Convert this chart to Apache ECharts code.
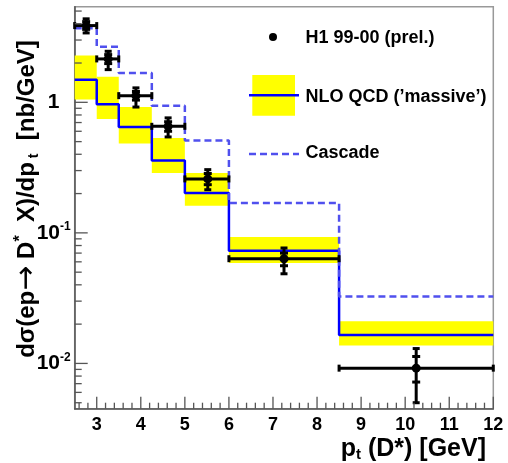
<!DOCTYPE html>
<html>
<head>
<meta charset="utf-8">
<script src="https://cdn.jsdelivr.net/npm/echarts@6/dist/echarts.min.js"></script>
<style>
html,body{margin:0;padding:0;background:#fff;}
#c{width:508px;height:463px;}
</style>
</head>
<body>
<div id="c"></div>
<script>
// ---- data ----
var binEdges = [2.5, 3.0, 3.5, 4.25, 5.0, 6.0, 8.5, 12.0];
var h1X      = [2.76, 3.26, 3.89, 4.62, 5.52, 7.25, 10.25];
var h1Y      = [3.87, 2.15, 1.125, 0.655, 0.259, 0.0634, 0.0092];
var h1TotUp  = [4.36, 2.46, 1.29, 0.76, 0.305, 0.0766, 0.0130];
var h1TotDn  = [3.40, 1.78, 0.92, 0.543, 0.214, 0.0486, 0.0050];
var h1StatUp = [4.15, 2.32, 1.21, 0.71, 0.285, 0.0700, 0.0113];
var h1StatDn = [3.62, 1.98, 1.04, 0.60, 0.234, 0.0560, 0.0072];
var nloY     = [1.49, 0.965, 0.647, 0.359, 0.202, 0.0731, 0.0165];
var nloHi    = [2.28, 1.57, 0.92, 0.533, 0.288, 0.093, 0.021];
var nloLo    = [1.05, 0.746, 0.483, 0.288, 0.161, 0.0588, 0.0137];
var cascadeY = [3.7, 2.66, 1.68, 0.943, 0.511, 0.1695, 0.0326];
var xMajorTicks = [3, 4, 5, 6, 7, 8, 9, 10, 11, 12];
var yMajorTicks = [0.01, 0.1, 1];

var X_MIN = 2.5, X_MAX = 12, Y_MIN = 0.0045, Y_MAX = 5.4;
var FONT = '"Liberation Sans", Arial, Helvetica, sans-serif';

function stepData(vals) {
  var d = [];
  for (var i = 0; i < binEdges.length; i++) {
    d.push([binEdges[i], vals[Math.min(i, vals.length - 1)]]);
  }
  return d;
}

var bandData = [];
var pointData = [];
for (var i = 0; i < nloY.length; i++) {
  bandData.push([binEdges[i], binEdges[i + 1], nloLo[i], nloHi[i]]);
  pointData.push([h1X[i], h1Y[i], binEdges[i], binEdges[i + 1], h1TotDn[i], h1TotUp[i], h1StatDn[i], h1StatUp[i]]);
}

// minor ticks
var xMinorTicks = [];
for (var k = 26; k <= 118; k += 2) { if (k % 10 !== 0) xMinorTicks.push(k / 10); }
var yMinorTicks = [];
for (var e = -3; e <= 0; e++) {
  for (var m = 2; m <= 9; m++) {
    var v = m * Math.pow(10, e);
    if (v > Y_MIN && v < Y_MAX) yMinorTicks.push(v);
  }
}

var chart = echarts.init(document.getElementById('c'), null, {renderer: 'canvas'});

var axisCol = '#555';

var option = {
  animation: false,
  backgroundColor: '#fff',
  grid: {left: 74.7, right: 14.7, top: 6.7, bottom: 54.3, show: true, borderColor: '#999', borderWidth: 1.5, backgroundColor: 'transparent'},
  xAxis: {
    type: 'value', min: X_MIN, max: X_MAX, interval: 0.5,
    axisLine: {show: true, lineStyle: {color: axisCol, width: 1.5}},
    axisTick: {show: false},
    splitLine: {show: false},
    axisLabel: {
      margin: 7, color: '#000', fontSize: 18, fontWeight: 'bold', fontFamily: FONT,
      showMinLabel: true, showMaxLabel: true,
      formatter: function (v) { return Math.abs(v - Math.round(v)) < 1e-6 ? String(Math.round(v)) : ''; }
    }
  },
  yAxis: {
    type: 'log', logBase: 10, min: Y_MIN, max: Y_MAX,
    axisLine: {show: true, lineStyle: {color: axisCol, width: 1.5}},
    axisTick: {show: false},
    splitLine: {show: false},
    minorTick: {show: false},
    axisLabel: {
      margin: 21, align: 'center', color: '#000', fontFamily: FONT,
      showMinLabel: false, showMaxLabel: false,
      formatter: function (v) {
        var l = Math.log10(v), r = Math.round(l);
        if (Math.abs(l - r) > 1e-6) return '';
        if (r === 0) return '{b|1}';
        return '{b|10}{s|' + r + '}';
      },
      rich: {
        b: {fontSize: 21, fontWeight: 'bold', fontFamily: FONT, color: '#000', lineHeight: 24},
        s: {fontSize: 12, fontWeight: 'bold', fontFamily: FONT, color: '#000', verticalAlign: 'top', lineHeight: 13}
      }
    }
  },
  series: [
    {
      type: 'custom', name: 'band', clip: true, z: 1,
      data: bandData,
      renderItem: function (params, api) {
        var p0 = api.coord([api.value(0), api.value(3)]);
        var p1 = api.coord([api.value(1), api.value(2)]);
        return {type: 'rect', shape: {x: p0[0], y: p0[1], width: p1[0] - p0[0], height: p1[1] - p0[1]},
          style: {fill: '#ffff00'}};
      }
    },
    {
      type: 'line', name: 'NLO', step: 'end', showSymbol: false, symbol: 'none', z: 3,
      data: stepData(nloY),
      lineStyle: {color: '#0000ff', width: 2.5}
    },
    {
      type: 'line', name: 'Cascade', step: 'end', showSymbol: false, symbol: 'none', z: 3,
      data: stepData(cascadeY),
      lineStyle: {color: '#5050ee', width: 2.5, type: [7, 4]}
    },
    {
      type: 'custom', name: 'H1', clip: false, z: 5,
      data: pointData,
      renderItem: function (params, api) {
        var c = api.coord([api.value(0), api.value(1)]);
        var xl = api.coord([api.value(2), api.value(1)]);
        var xh = api.coord([api.value(3), api.value(1)]);
        var tD = api.coord([api.value(0), api.value(4)]);
        var tU = api.coord([api.value(0), api.value(5)]);
        var sD = api.coord([api.value(0), api.value(6)]);
        var sU = api.coord([api.value(0), api.value(7)]);
        var st = {stroke: '#000', lineWidth: 3};
        var cap = 3.5;
        return {type: 'group', children: [
          {type: 'line', shape: {x1: xl[0], y1: c[1], x2: xh[0], y2: c[1]}, style: st},
          {type: 'line', shape: {x1: xl[0], y1: c[1] - cap, x2: xl[0], y2: c[1] + cap}, style: st},
          {type: 'line', shape: {x1: xh[0], y1: c[1] - cap, x2: xh[0], y2: c[1] + cap}, style: st},
          {type: 'line', shape: {x1: c[0], y1: tD[1], x2: c[0], y2: tU[1]}, style: st},
          {type: 'line', shape: {x1: c[0] - cap, y1: tD[1], x2: c[0] + cap, y2: tD[1]}, style: st},
          {type: 'line', shape: {x1: c[0] - cap, y1: tU[1], x2: c[0] + cap, y2: tU[1]}, style: st},
          {type: 'line', shape: {x1: c[0] - 4, y1: sD[1], x2: c[0] + 4, y2: sD[1]}, style: st},
          {type: 'line', shape: {x1: c[0] - 4, y1: sU[1], x2: c[0] + 4, y2: sU[1]}, style: st},
          {type: 'circle', shape: {cx: c[0], cy: c[1], r: 4.5}, style: {fill: '#000'}}
        ]};
      }
    },
    {
      type: 'custom', name: 'ticks', clip: false, z: 6, silent: true,
      data: [[X_MIN, 1]],
      renderItem: function (params, api) {
        var ch = [];
        var st = {stroke: axisCol, lineWidth: 1.3};
        function xt(v, len) {
          var p = api.coord([v, Y_MIN]);
          ch.push({type: 'line', shape: {x1: p[0], y1: p[1], x2: p[0], y2: p[1] - len}, style: st});
        }
        function yt(v, len) {
          var p = api.coord([X_MIN, v]);
          ch.push({type: 'line', shape: {x1: p[0], y1: p[1], x2: p[0] + len, y2: p[1]}, style: st});
        }
        xMajorTicks.forEach(function (v) { xt(v, 12); });
        xMinorTicks.forEach(function (v) { xt(v, 6); });
        yMajorTicks.forEach(function (v) { yt(v, 13); });
        yMinorTicks.forEach(function (v) { yt(v, 7); });
        return {type: 'group', children: ch};
      }
    }
  ],
  graphic: [
    // legend
    {type: 'circle', shape: {cx: 273, cy: 37, r: 4}, style: {fill: '#000'}, z: 10},
    {type: 'text', x: 305.5, y: 38, z: 10, style: {text: 'H1 99-00 (prel.)', font: 'bold 18px ' + FONT, fill: '#000', verticalAlign: 'middle', align: 'left'}},
    {type: 'rect', shape: {x: 252.3, y: 75, width: 42.7, height: 40.7}, style: {fill: '#ffff00'}, z: 10},
    {type: 'line', shape: {x1: 249, y1: 95.3, x2: 299, y2: 95.3}, style: {stroke: '#0000ff', lineWidth: 2.5}, z: 11},
    {type: 'text', x: 305.5, y: 97, z: 10, style: {text: 'NLO QCD (\u2019massive\u2019)', font: 'bold 18px ' + FONT, fill: '#000', verticalAlign: 'middle', align: 'left'}},
    {type: 'line', shape: {x1: 249, y1: 154, x2: 299, y2: 154}, style: {stroke: '#5050ee', lineWidth: 2.5, lineDash: [7, 4]}, z: 10},
    {type: 'text', x: 305.5, y: 153, z: 10, style: {text: 'Cascade', font: 'bold 18px ' + FONT, fill: '#000', verticalAlign: 'middle', align: 'left'}},
    // y title
    {type: 'text', x: 27, y: 199, rotation: Math.PI / 2, z: 10,
      style: {
        text: '{n|d\u03c3(ep}{a|\u2192}{n| D}{sup|*}{n|  X)/dp}{sub| t}{n|  [nb/GeV]}',
        align: 'center', verticalAlign: 'middle',
        rich: {
          n: {fontSize: 24, fontWeight: 'bold', fontFamily: FONT, fill: '#000', lineHeight: 28},
          a: {fontSize: 30, fontWeight: 'normal', fontFamily: '"DejaVu Sans", sans-serif', fill: '#000', lineHeight: 28},
          sup: {fontSize: 16, fontWeight: 'bold', fontFamily: FONT, fill: '#000', verticalAlign: 'top', lineHeight: 16},
          sub: {fontSize: 14, fontWeight: 'bold', fontFamily: FONT, fill: '#000', verticalAlign: 'bottom', lineHeight: 16}
        }
      }},
    // x title
    {type: 'text', x: 486, y: 449, z: 10,
      style: {
        text: '{n|p}{t|t}{n| (D*) [GeV]}',
        align: 'right', verticalAlign: 'middle',
        rich: {
          n: {fontSize: 25, fontWeight: 'bold', fontFamily: FONT, fill: '#000', lineHeight: 27},
          t: {fontSize: 15, fontWeight: 'bold', fontFamily: FONT, fill: '#000', verticalAlign: 'bottom', lineHeight: 23}
        }
      }}
  ]
};
chart.setOption(option);
</script>
</body>
</html>
